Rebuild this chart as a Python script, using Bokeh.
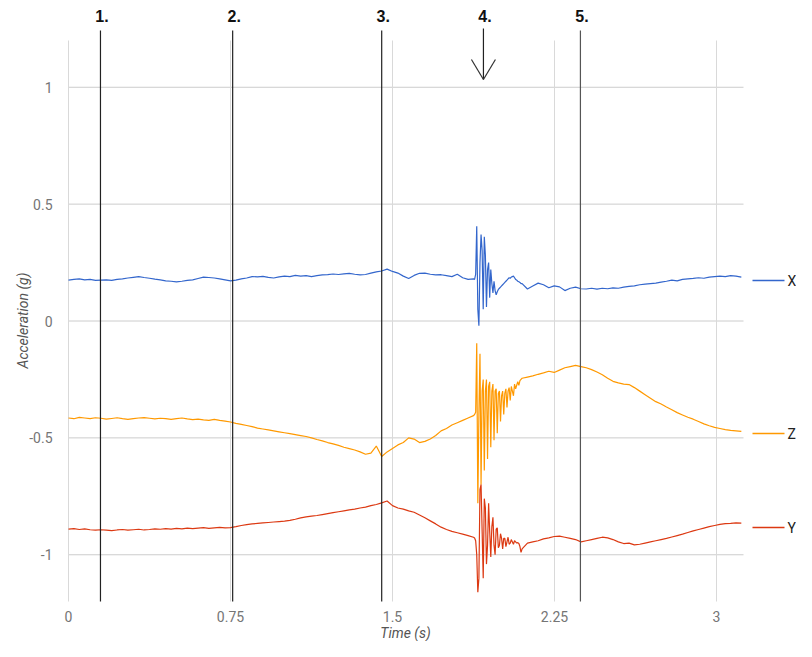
import numpy as np
from bokeh.plotting import figure
from bokeh.models import Range1d
from bokeh.core.properties import value
from bokeh.embed import file_html
from bokeh.resources import INLINE

# ---------------- data ----------------
# sampling segments: (start s, end s)
seg1_span = (0.0, 1.875)
seg2_span = (1.88, 2.095)
seg3_span = (2.1, 3.115)

x_seg1 = [0.175, 0.178, 0.180, 0.176, 0.178, 0.174, 0.175, 0.176, 0.174, 0.178,
          0.180, 0.184, 0.187, 0.190, 0.186, 0.183, 0.179, 0.176, 0.172, 0.170,
          0.167, 0.170, 0.174, 0.176, 0.182, 0.188, 0.186, 0.184, 0.180, 0.176,
          0.172, 0.175, 0.180, 0.184, 0.190, 0.189, 0.191, 0.187, 0.184, 0.189,
          0.192, 0.190, 0.195, 0.192, 0.194, 0.190, 0.194, 0.197, 0.198, 0.201,
          0.199, 0.202, 0.204, 0.200, 0.197, 0.199, 0.205, 0.210, 0.214, 0.222,
          0.212, 0.205, 0.192, 0.182, 0.195, 0.204, 0.205, 0.200, 0.197, 0.198,
          0.194, 0.190, 0.200, 0.185, 0.178, 0.180]
x_seg2 = [0.178, 0.200, 0.405, 0.050, -0.020, 0.250, 0.370, 0.300, 0.050, 0.360,
          0.280, 0.060, 0.220, 0.250, 0.100, 0.220, 0.160, 0.120, 0.170, 0.130,
          0.112, 0.125, 0.135, 0.140, 0.145, 0.150, 0.155, 0.160, 0.165, 0.170,
          0.175, 0.180, 0.185, 0.183, 0.188, 0.190, 0.192, 0.185, 0.178, 0.175,
          0.170, 0.168, 0.165, 0.160]
x_seg3 = [0.160, 0.137, 0.150, 0.162, 0.155, 0.142, 0.150, 0.146, 0.130, 0.140,
          0.145, 0.138, 0.137, 0.140, 0.136, 0.140, 0.138, 0.142, 0.140, 0.145,
          0.148, 0.150, 0.155, 0.158, 0.160, 0.162, 0.166, 0.170, 0.175, 0.172,
          0.178, 0.180, 0.182, 0.185, 0.183, 0.188, 0.190, 0.192, 0.190, 0.194,
          0.192, 0.188]

z_seg1 = [-0.415, -0.418, -0.412, -0.415, -0.418, -0.414, -0.416, -0.420, -0.417, -0.414,
          -0.418, -0.421, -0.418, -0.415, -0.413, -0.416, -0.419, -0.416, -0.418, -0.421,
          -0.418, -0.415, -0.419, -0.422, -0.420, -0.423, -0.425, -0.421, -0.425, -0.428,
          -0.432, -0.438, -0.442, -0.447, -0.452, -0.458, -0.462, -0.466, -0.470, -0.474,
          -0.478, -0.482, -0.486, -0.490, -0.494, -0.500, -0.507, -0.513, -0.520, -0.526,
          -0.532, -0.540, -0.546, -0.552, -0.560, -0.570, -0.565, -0.535, -0.580, -0.560,
          -0.545, -0.530, -0.520, -0.500, -0.505, -0.520, -0.515, -0.505, -0.490, -0.470,
          -0.460, -0.445, -0.435, -0.425, -0.415, -0.405]
z_seg2 = [-0.400, -0.390, -0.095, -0.780, -0.400, -0.140, -0.700, -0.300, -0.250, -0.640,
          -0.300, -0.250, -0.590, -0.280, -0.260, -0.540, -0.300, -0.270, -0.510, -0.300,
          -0.290, -0.480, -0.310, -0.300, -0.430, -0.320, -0.300, -0.400, -0.310, -0.290,
          -0.370, -0.300, -0.285, -0.340, -0.280, -0.300, -0.320, -0.270, -0.290, -0.275,
          -0.260, -0.275, -0.255, -0.250]
z_seg3 = [-0.245, -0.240, -0.235, -0.228, -0.222, -0.215, -0.220, -0.210, -0.200, -0.195,
          -0.190, -0.195, -0.200, -0.208, -0.218, -0.230, -0.245, -0.258, -0.265, -0.270,
          -0.272, -0.285, -0.300, -0.315, -0.330, -0.345, -0.355, -0.368, -0.380, -0.392,
          -0.402, -0.412, -0.420, -0.430, -0.440, -0.448, -0.455, -0.460, -0.465, -0.468,
          -0.470, -0.472]

y_seg1 = [-0.890, -0.888, -0.892, -0.889, -0.893, -0.895, -0.893, -0.895, -0.897, -0.894,
          -0.892, -0.895, -0.893, -0.891, -0.894, -0.892, -0.889, -0.891, -0.888, -0.890,
          -0.887, -0.889, -0.886, -0.888, -0.886, -0.884, -0.887, -0.885, -0.883, -0.885,
          -0.884, -0.880, -0.875, -0.871, -0.868, -0.866, -0.864, -0.862, -0.860, -0.858,
          -0.856, -0.853, -0.848, -0.842, -0.838, -0.835, -0.832, -0.828, -0.824, -0.820,
          -0.816, -0.812, -0.808, -0.805, -0.800, -0.796, -0.790, -0.785, -0.778, -0.770,
          -0.790, -0.800, -0.805, -0.812, -0.818, -0.830, -0.842, -0.855, -0.868, -0.882,
          -0.892, -0.900, -0.906, -0.912, -0.918, -0.925]
y_seg2 = [-0.928, -0.940, -1.000, -1.160, -1.100, -0.720, -0.700, -0.900, -1.100, -0.760,
          -0.800, -1.040, -0.960, -0.780, -0.900, -1.010, -0.880, -0.840, -0.960, -1.000,
          -0.890, -0.885, -0.970, -0.960, -0.910, -0.930, -0.975, -0.930, -0.930, -0.965,
          -0.945, -0.925, -0.955, -0.950, -0.935, -0.945, -0.955, -0.940, -0.945, -0.950,
          -0.948, -0.952, -0.965, -0.990]
y_seg3 = [-0.975, -0.950, -0.945, -0.940, -0.932, -0.928, -0.922, -0.920, -0.925, -0.930,
          -0.935, -0.945, -0.940, -0.935, -0.930, -0.925, -0.928, -0.935, -0.945, -0.952,
          -0.950, -0.958, -0.955, -0.950, -0.945, -0.940, -0.935, -0.930, -0.924, -0.918,
          -0.912, -0.905, -0.898, -0.892, -0.886, -0.880, -0.875, -0.870, -0.867, -0.866,
          -0.864, -0.865]

series_names = ["X", "Z", "Y"]
series_colors = ["#3366cc", "#ff9900", "#dc3912"]

x_ticks = [0, 0.75, 1.5, 2.25, 3]
x_tick_labels = ["0", "0.75", "1.5", "2.25", "3"]
y_ticks = [-1, -0.5, 0, 0.5, 1]
y_tick_labels = ["-1", "-0.5", "0", "0.5", "1"]

x_title = "Time (s)"
y_title = "Acceleration (g)"

marker_times = [0.148, 0.76, 1.45, 1.921, 2.37]
marker_labels = ["1.", "2.", "3.", "4.", "5."]

# ---------------- assemble ----------------
def seg_times(vals, span):
    return np.linspace(span[0], span[1], len(vals))

def assemble(s1, s2, s3):
    t = np.concatenate([seg_times(s1, seg1_span), seg_times(s2, seg2_span), seg_times(s3, seg3_span)])
    v = np.concatenate([s1, s2, s3])
    return t, v

series = {
    "X": assemble(x_seg1, x_seg2, x_seg3),
    "Z": assemble(z_seg1, z_seg2, z_seg3),
    "Y": assemble(y_seg1, y_seg2, y_seg3),
}

# ---------------- layout (frame = whole figure, pixel coords from top-left) ----------------
PX_PER_S = 216.0
PX_PER_G = 233.75
W, H = 796, 641
X0_PX = 68        # pixel of t = 0
TOP_PX = 40       # pixel of +1.2 g
y_top_val = 1.2
x_lo = -X0_PX / PX_PER_S
x_hi = (W - X0_PX) / PX_PER_S
y_hi = y_top_val + TOP_PX / PX_PER_G
y_lo = y_hi - H / PX_PER_G
area_x_end = 3.125
area_y_bot = -1.2

def px_to_x(px):
    return (px - X0_PX) / PX_PER_S

def py_to_y(py):
    return y_hi - py / PX_PER_G

p = figure(width=W, height=H, output_backend="svg", toolbar_location=None,
           x_range=Range1d(x_lo, x_hi), y_range=Range1d(y_lo, y_hi),
           x_axis_type=None, y_axis_type=None,
           min_border=0, min_border_left=0, min_border_right=0, min_border_top=0, min_border_bottom=0)
p.outline_line_color = None
p.background_fill_color = "white"
p.grid.visible = False

FONT = "Roboto"

# gridlines (chart area only)
p.segment(x0=[0] * len(y_ticks), x1=[area_x_end] * len(y_ticks), y0=y_ticks, y1=y_ticks,
          line_color="#cccccc", line_width=1)
p.segment(x0=x_ticks, x1=x_ticks, y0=[area_y_bot] * len(x_ticks), y1=[y_top_val] * len(x_ticks),
          line_color="#d9d9d9", line_width=1)

# tick labels
p.text(x=x_ticks, y=[py_to_y(616)] * len(x_ticks), text=x_tick_labels, text_font=value(FONT),
       text_font_size="14px", text_color="#757575", text_align="center", text_baseline="middle")
p.text(x=[px_to_x(52)] * len(y_ticks), y=y_ticks, text=y_tick_labels, text_font=value(FONT),
       text_font_size="14px", text_color="#757575", text_align="right", text_baseline="middle")

# axis titles
p.text(x=[px_to_x(405)], y=[py_to_y(632)], text=[x_title], text_font=value(FONT),
       text_font_size="14px", text_font_style="italic", text_color="#555555",
       text_align="center", text_baseline="middle")
p.text(x=[px_to_x(22)], y=[py_to_y(320)], text=[y_title], angle=np.pi / 2, text_font=value(FONT),
       text_font_size="14px", text_font_style="italic", text_color="#555555",
       text_align="center", text_baseline="middle")

# series
for name, col in zip(series_names, series_colors):
    t, v = series[name]
    p.line(t, v, line_color=col, line_width=1.2)

# legend (labels at right of chart area)
legend_y = {"X": py_to_y(280), "Z": py_to_y(433), "Y": py_to_y(527)}
lx0, lx1, ltx = px_to_x(752), px_to_x(784), px_to_x(787)
for name, col in zip(series_names, series_colors):
    ly = legend_y[name]
    p.line([lx0, lx1], [ly, ly], line_color=col, line_width=1.5)
    p.text(x=[ltx], y=[ly], text=[name], text_font=value(FONT), text_font_size="14px",
           text_color="#222222", text_align="left", text_baseline="middle")

# event markers
marker_colors = ["#222222", "#222222", "#222222", "#222222", "#555555"]
for mt, lab, mc in zip(marker_times, marker_labels, marker_colors):
    if lab == "4.":
        tip = py_to_y(79)
        p.segment(x0=[mt], x1=[mt], y0=[py_to_y(28)], y1=[tip], line_color="#222222", line_width=1.2)
        dx = 12 / PX_PER_S
        dy = 20 / PX_PER_G
        p.segment(x0=[mt - dx, mt + dx], x1=[mt, mt], y0=[tip + dy, tip + dy], y1=[tip, tip],
                  line_color="#333333", line_width=1.2)
    else:
        p.segment(x0=[mt], x1=[mt], y0=[area_y_bot], y1=[py_to_y(30)], line_color=mc, line_width=1.2)
    p.text(x=[mt + 1.5 / PX_PER_S], y=[py_to_y(15)], text=[lab], text_font=value("Liberation Sans"),
           text_font_size="16px", text_font_style="bold", text_color="#111111",
           text_align="center", text_baseline="middle")

open("out.html", "w").write(file_html(p, INLINE))
